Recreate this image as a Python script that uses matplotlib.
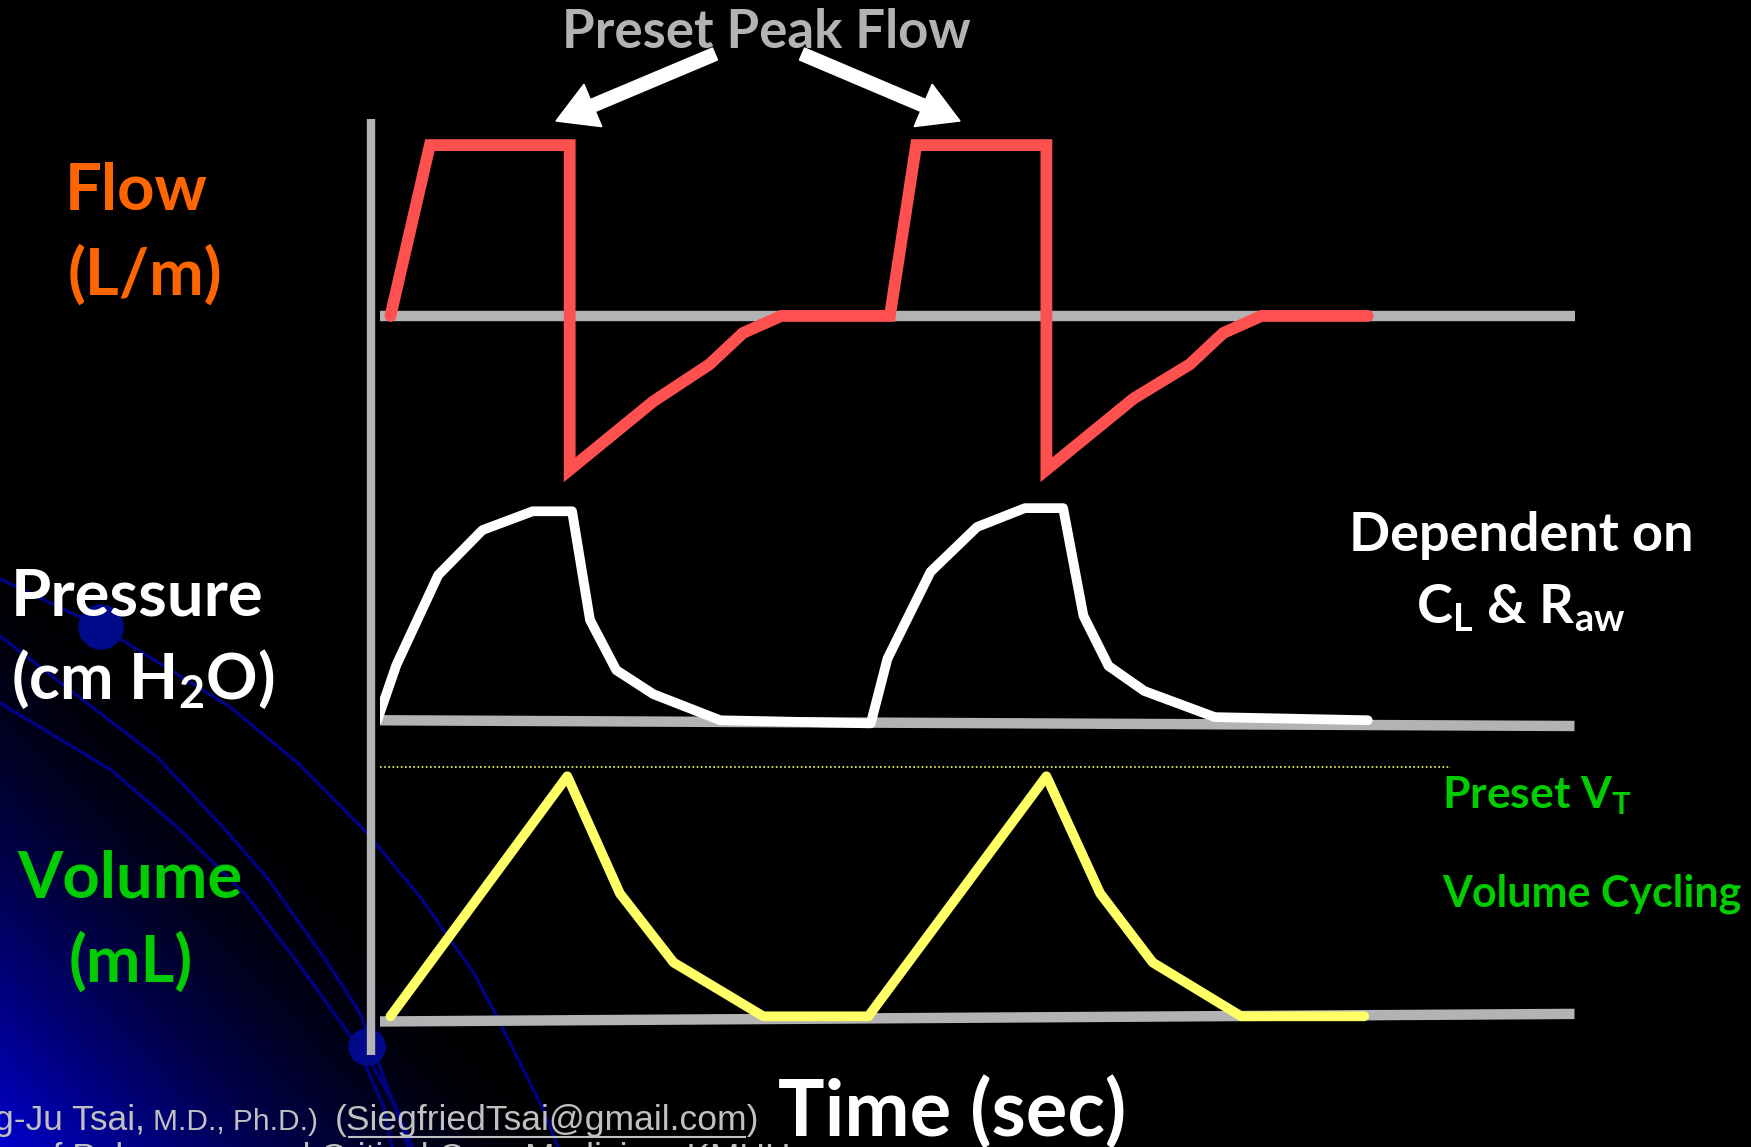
import numpy as np
import matplotlib.pyplot as plt
from matplotlib.patches import FancyArrow, Circle

plt.rcParams['font.family'] = ['Lato', 'DejaVu Sans']
plt.rcParams['mathtext.fontset'] = 'custom'
plt.rcParams['mathtext.rm'] = 'Lato:bold'
plt.rcParams['mathtext.it'] = 'Lato:bold'
plt.rcParams['mathtext.bf'] = 'Lato:bold'

# waveform data (time in arbitrary units 0-10)
flow_t = [0.09, 0.42, 1.59, 1.59, 2.29, 2.76, 3.04, 3.36, 4.27, 4.49, 5.58, 5.58, 6.31, 6.78, 7.06, 7.38, 8.27]
flow_v = [0, 60, 60, -54, -30, -17, -6, 0, 0, 60, 60, -54, -29, -17, -6, 0, 0]

pres_t = [-0.02, 0.14, 0.49, 0.86, 1.28, 1.61, 1.76, 1.98, 2.29, 2.85, 4.11,
          4.25, 4.61, 5.00, 5.40, 5.72, 5.89, 6.10, 6.40, 6.99, 8.27]
pres_v = [0, 5.3, 13.9, 18.2, 20, 20, 9.6, 4.8, 2.5, 0, -0.3,
          5.9, 14.2, 18.5, 20.3, 20.3, 10, 5.2, 2.8, 0.3, 0]

vol_t = [0.09, 1.57, 2.01, 2.46, 3.21, 4.09, 5.58, 6.03, 6.47, 7.21, 8.24]
vol_v = [0, 500, 256, 112, 0, 0, 500, 256, 112, 0, 0]
preset_vt = 520

W, H = 1751, 1147
fig = plt.figure(figsize=(W / 100, H / 100), dpi=100)
fig.patch.set_facecolor('black')

bg = fig.add_axes([0, 0, 1, 1], zorder=0)
bg.axis('off')
bg.set_facecolor('black')

# blue gradient in the bottom-left corner
xx, yy = np.meshgrid(np.linspace(0, 800, 400), np.linspace(450, H, 350))
u = xx * 0.72 + (H - yy) * 0.69
k = np.clip(1 - u / 430, 0, 1) ** 1.6
img = np.zeros(xx.shape + (3,))
img[..., 2] = 0.8 * k
bg.imshow(img, extent=[0, 800, H, 450], origin='upper', aspect='auto', zorder=0)
bg.set_xlim(0, W)
bg.set_ylim(H, 0)

arcs = [
    [(0, 579), (101, 627), (230, 707), (299, 764), (367, 833), (421, 898), (475, 975), (497, 1017), (543, 1109), (558, 1147)],
    [(0, 636), (157, 757), (222, 826), (268, 879), (325, 959), (360, 1013), (398, 1116), (408, 1147)],
    [(0, 703), (111, 770), (176, 826), (245, 894), (298, 963), (356, 1044), (383, 1105), (392, 1147)],
    [(360, 1044), (395, 1105), (412, 1147)],
]
for a in arcs:
    a = np.array(a)
    bg.plot(a[:, 0], a[:, 1], color='#000088', lw=2.3, zorder=1)
bg.add_patch(Circle((101, 627), 22, color='#000a8a', zorder=2))
bg.add_patch(Circle((367, 1047), 18, color='#000a8a', zorder=2))

# vertical axis
bg.plot([371, 371], [119, 1055], color='#b3b3b3', lw=6, solid_capstyle='butt', zorder=3)

# arrows
for tail, tip in [((715, 54), (556, 121)), ((802, 54), (960, 121))]:
    bg.add_patch(FancyArrow(tail[0], tail[1], tip[0] - tail[0], tip[1] - tail[1],
                            width=13, head_width=46, head_length=40,
                            length_includes_head=True, color='white', zorder=3))

x0, x1 = 379.7 / W, 1574.5 / W


def panel(bottom, height, lo, hi):
    ax = fig.add_axes([x0, bottom, x1 - x0, height], zorder=2)
    ax.set_xlim(0, 10)
    ax.set_ylim(lo, hi)
    ax.axis('off')
    ax.patch.set_alpha(0)
    return ax


ax_f = panel(0.5756, 0.3227, -60, 70)
ax_p = panel(0.3265, 0.2733, -5, 25)
ax_v = panel(0.0721, 0.2930, -100, 600)

gray = '#b3b3b3'
ax_f.plot([0, 10], [0, 0], color=gray, lw=7.5, solid_capstyle='butt')
ax_p.plot([0, 10], [0, -0.55], color=gray, lw=7.5, solid_capstyle='butt')
ax_v.plot([-0.12, 10], [-11, 5], color=gray, lw=7.5, solid_capstyle='butt')

ax_f.plot(flow_t, flow_v, color='#ff5050', lw=8.5, solid_joinstyle='miter', solid_capstyle='round')
ax_p.plot(pres_t, pres_v, color='white', lw=7, solid_joinstyle='round', solid_capstyle='round')
ax_v.plot(vol_t, vol_v, color='#ffff66', lw=7, solid_joinstyle='round', solid_capstyle='round')
ax_v.plot([0, 8.97], [preset_vt, preset_vt], color='#ffff66', lw=1.2, ls=(0, (1, 1.5)))

# labels
bg.text(766, 33, 'Preset Peak Flow', color='#b3b3b3', fontsize=38, fontweight='bold',
        ha='center', va='center')
orange, green = '#ff6600', '#00cc00'
bg.text(136, 191, 'Flow', color=orange, fontsize=47, fontweight='bold', ha='center', va='center')
bg.text(145, 275, '(L/m)', color=orange, fontsize=47, fontweight='bold', ha='center', va='center')
bg.text(137, 597, 'Pressure', color='white', fontsize=47, fontweight='bold', ha='center', va='center')
bg.text(143, 679, '(cm H$_2$O)', color='white', fontsize=46, fontweight='bold', ha='center', va='center')
bg.text(130, 879, 'Volume', color=green, fontsize=47, fontweight='bold', ha='center', va='center')
bg.text(131, 962, '(mL)', color=green, fontsize=47, fontweight='bold', ha='center', va='center')
bg.text(1521, 536, 'Dependent on', color='white', fontsize=39, fontweight='bold', ha='center', va='center')
bg.text(1521, 608, r'C$_\mathrm{L}$ & R$_\mathrm{aw}$', color='white', fontsize=39, fontweight='bold',
        ha='center', va='center')
bg.text(1442, 796, r'Preset V$_\mathrm{T}$', color=green, fontsize=32, fontweight='bold',
        ha='left', va='center')
bg.text(1442, 894, 'Volume Cycling', color=green, fontsize=31, fontweight='bold',
        ha='left', va='center')
bg.text(952, 1113, 'Time (sec)', color='white', fontsize=56, fontweight='bold', ha='center', va='center')

# footer
fg = '#c0c0c0'
bg.text(-6, 1130, 'g-Ju Tsai,', color=fg, fontsize=25.5, family='Liberation Sans', ha='left', va='baseline')
bg.text(153, 1130, 'M.D., Ph.D.)', color=fg, fontsize=21.5, family='Liberation Sans', ha='left', va='baseline')
bg.text(335, 1130, '(SiegfriedTsai@gmail.com)', color=fg, fontsize=25.5, family='Liberation Sans',
        ha='left', va='baseline')
bg.plot([349, 745], [1137, 1137], color=fg, lw=1.5)
bg.text(790, 1168, 'Division of Pulmonary and Critical Care Medicine, KMUH', color=fg, fontsize=25.5,
        family='Liberation Sans', ha='right', va='baseline')

fig.savefig('out.png', dpi=100, facecolor='black')
